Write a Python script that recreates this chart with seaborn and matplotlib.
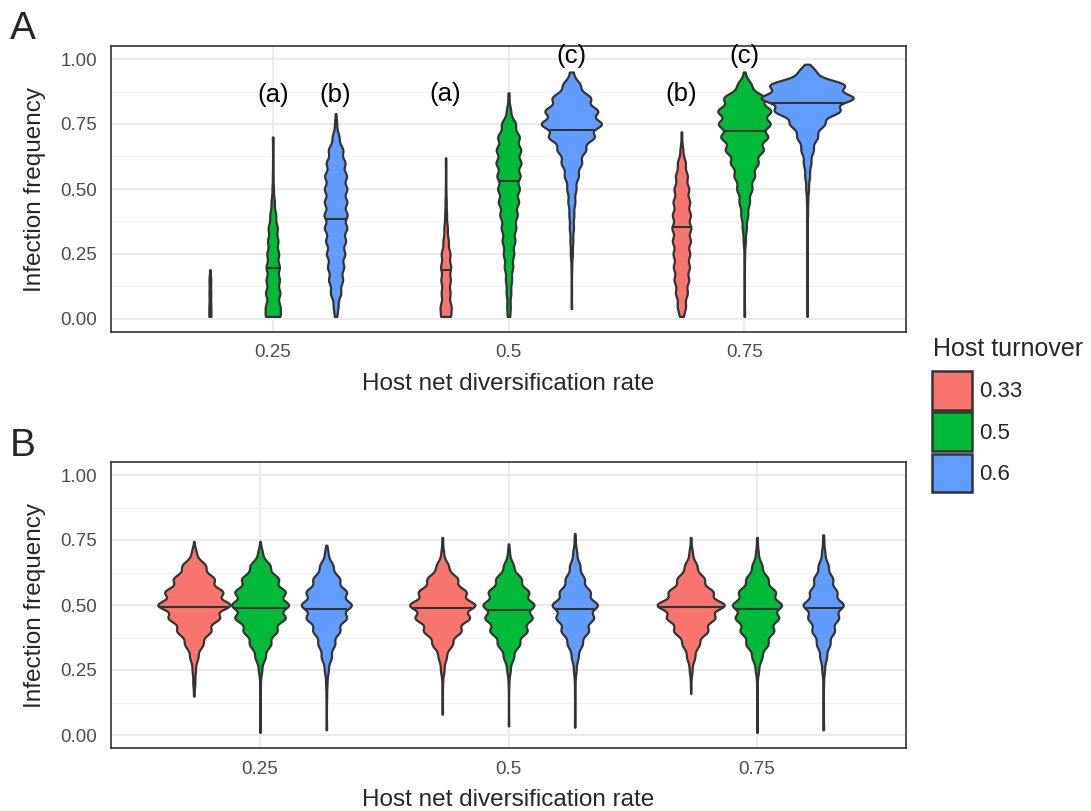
import numpy as np
import pandas as pd
import matplotlib
matplotlib.use("Agg")
import matplotlib.pyplot as plt
from matplotlib.patches import Patch
import seaborn as sns

rates = ["0.25", "0.5", "0.75"]
turnovers = ["0.33", "0.5", "0.6"]
palette = ["#F8766D", "#00BA38", "#619CFF"]

# infection frequency bins
freq_bins = [0.00, 0.05, 0.10, 0.15, 0.20, 0.25, 0.30, 0.35, 0.40, 0.45, 0.50,
             0.55, 0.60, 0.65, 0.70, 0.75, 0.80, 0.85, 0.90, 0.95, 1.00]

# relative frequency per bin, one row per diversification rate (0.25, 0.5, 0.75)
# panel A
A_033 = [[2, 2, 2, 2, 0, 0, 0, 0, 0, 0, 0, 0, 0, 0, 0, 0, 0, 0, 0, 0, 0],
         [26, 30, 26, 28, 30, 26, 16, 10, 6, 4, 2, 1, 1, 0, 0, 0, 0, 0, 0, 0, 0],
         [8, 24, 36, 44, 48, 50, 54, 56, 54, 50, 44, 36, 24, 8, 2, 0, 0, 0, 0, 0, 0]]
A_05 = [[40, 40, 44, 40, 40, 36, 32, 28, 18, 10, 4, 2, 1, 1, 1, 0, 0, 0, 0, 0, 0],
        [6, 10, 14, 18, 24, 30, 36, 42, 50, 58, 62, 66, 72, 70, 62, 40, 12, 3, 0, 0, 0],
        [1, 1, 1, 1, 1, 2, 6, 12, 20, 30, 44, 60, 80, 110, 136, 150, 154, 120, 40, 4, 0]]
A_06 = [[4, 14, 30, 40, 46, 52, 56, 64, 66, 64, 64, 62, 54, 42, 20, 6, 0, 0, 0, 0, 0],
        [0, 1, 1, 1, 2, 6, 8, 12, 14, 20, 26, 40, 58, 80, 130, 172, 150, 110, 50, 10, 0],
        [1, 1, 1, 1, 1, 1, 1, 1, 2, 4, 8, 14, 22, 36, 60, 100, 190, 272, 220, 50, 0]]
# panel B
B_033 = [[0, 0, 0, 1, 6, 10, 24, 54, 100, 150, 215, 170, 120, 70, 14, 0, 0, 0, 0, 0, 0],
         [0, 0, 1, 1, 2, 10, 24, 60, 110, 160, 194, 140, 90, 36, 8, 2, 0, 0, 0, 0, 0],
         [0, 0, 0, 0, 2, 8, 24, 50, 100, 140, 200, 130, 80, 36, 10, 2, 0, 0, 0, 0, 0]]
B_05 = [[1, 1, 1, 1, 2, 10, 30, 64, 100, 150, 170, 150, 110, 60, 14, 0, 0, 0, 0, 0, 0],
        [0, 1, 1, 1, 2, 10, 30, 66, 110, 140, 152, 120, 76, 30, 6, 0, 0, 0, 0, 0, 0],
        [1, 1, 1, 1, 2, 10, 30, 66, 100, 130, 148, 110, 66, 30, 8, 2, 0, 0, 0, 0, 0]]
B_06 = [[1, 1, 1, 2, 4, 12, 30, 50, 80, 120, 150, 120, 80, 40, 10, 0, 0, 0, 0, 0, 0],
        [0, 1, 1, 1, 2, 8, 20, 44, 80, 110, 134, 90, 56, 30, 12, 3, 0, 0, 0, 0, 0],
        [1, 1, 1, 1, 2, 8, 20, 40, 66, 90, 120, 80, 56, 30, 10, 3, 0, 0, 0, 0, 0]]

# per turnover (rows) and rate (columns): number of runs, min, max, median
A_runs = [[40, 220, 380], [300, 500, 1060], [460, 1200, 1840]]
A_lo = [[0.01, 0.01, 0.01], [0.01, 0.01, 0.01], [0.01, 0.04, 0.01]]
A_hi = [[0.19, 0.62, 0.72], [0.70, 0.87, 0.95], [0.79, 0.95, 0.98]]
A_med = [[0.10, 0.19, 0.355], [0.195, 0.53, 0.725], [0.385, 0.727, 0.832]]

B_runs = [[1440, 1300, 1340], [1140, 1020, 980], [1000, 900, 800]]
B_lo = [[0.15, 0.08, 0.16], [0.01, 0.035, 0.01], [0.02, 0.03, 0.02]]
B_hi = [[0.745, 0.76, 0.76], [0.745, 0.735, 0.76], [0.73, 0.775, 0.77]]
B_med = [[0.492, 0.489, 0.494], [0.49, 0.479, 0.484], [0.483, 0.484, 0.489]]

# significance letters: (label, rate index, turnover index, y)
A_letters = [("(a)", 0, 1, 0.86), ("(b)", 0, 2, 0.86), ("(a)", 1, 0, 0.865),
             ("(c)", 1, 2, 1.012), ("(b)", 2, 0, 0.865), ("(c)", 2, 1, 1.01)]

OUTLINE = "#333333"
HUE_STEP = 0.8 / 3


def build_frame(profiles, runs, lo, hi):
    parts = []
    for j, turn in enumerate(turnovers):
        for i, rate in enumerate(rates):
            prof = np.array(profiles[j][i], dtype=float)
            counts = np.round(prof / prof.sum() * runs[j][i]).astype(int)
            obs = np.clip(np.repeat(freq_bins, counts), lo[j][i], hi[j][i])
            obs = np.append(obs, [lo[j][i], hi[j][i]])
            parts.append(pd.DataFrame({"rate": rate, "turnover": turn, "freq": obs}))
    return pd.concat(parts, ignore_index=True)


def fixed_bw(kde):
    # same absolute bandwidth for every violin
    return 0.02 / np.std(kde.dataset, ddof=1)


def draw_panel(ax, df, medians, gap, xlim):
    sns.violinplot(data=df, x="rate", y="freq", hue="turnover", order=rates,
                   hue_order=turnovers, palette=palette, saturation=1,
                   density_norm="count", common_norm=True, cut=0, gridsize=300,
                   bw_method=fixed_bw, inner=None, linewidth=1.6,
                   linecolor=OUTLINE, gap=gap, legend=False, ax=ax)

    # median line across each violin
    for coll in list(ax.collections):
        paths = coll.get_paths()
        if not paths:
            continue
        verts = paths[0].vertices
        cx = (verts[:, 0].min() + verts[:, 0].max()) / 2
        i = int(round(cx))
        j = int(round((cx - i) / HUE_STEP)) + 1
        m = medians[j][i]
        right = verts[verts[:, 0] >= cx]
        order = np.argsort(right[:, 1])
        xr = np.interp(m, right[order, 1], right[order, 0])
        ax.plot([2 * cx - xr, xr], [m, m], color=OUTLINE, lw=1.5,
                solid_capstyle="butt", zorder=5)

    ax.set_xlim(xlim)
    ax.set_ylim(-0.05, 1.05)
    ax.set_yticks([0, 0.25, 0.5, 0.75, 1.0])
    ax.set_yticklabels(["0.00", "0.25", "0.50", "0.75", "1.00"])
    ax.set_yticks([0.125, 0.375, 0.625, 0.875], minor=True)
    ax.set_xticks([0, 1, 2])
    ax.set_xticklabels(rates)
    ax.grid(which="major", color="#EBEBEB", lw=1.5)
    ax.grid(which="minor", axis="y", color="#F2F2F2", lw=0.9)
    ax.xaxis.grid(True, which="major", color="#EBEBEB", lw=1.5)
    ax.set_axisbelow(True)
    for s in ax.spines.values():
        s.set_visible(True)
        s.set_color(OUTLINE)
        s.set_linewidth(1.2)
    ax.tick_params(which="major", length=4, width=1, color=OUTLINE,
                   labelcolor="#4D4D4D", labelsize=13.5)
    ax.tick_params(axis="x", pad=5)
    ax.tick_params(axis="y", pad=6)
    ax.tick_params(which="minor", length=0)
    ax.set_xlabel("Host net diversification rate", fontsize=17.5, labelpad=8)
    ax.set_ylabel("Infection frequency", fontsize=17.5, labelpad=10)


sns.set_theme(style="white")
plt.rcParams["font.family"] = ["Liberation Sans", "DejaVu Sans"]

fig = plt.figure(figsize=(10.91, 8.11), dpi=100)
W, H = 1091, 811
axA = fig.add_axes([111 / W, 1 - 332 / H, 795 / W, 286 / H])
axB = fig.add_axes([111 / W, 1 - 748 / H, 795 / W, 286 / H])

dfA = build_frame([A_033, A_05, A_06], A_runs, A_lo, A_hi)
dfB = build_frame([B_033, B_05, B_06], B_runs, B_lo, B_hi)

draw_panel(axA, dfA, A_med, gap=-0.466, xlim=(-0.686, 2.686))
draw_panel(axB, dfB, B_med, gap=-0.087, xlim=(-0.6, 2.6))

for lab, i, j, y in A_letters:
    axA.text(i + (j - 1) * HUE_STEP, y, lab, ha="center", va="center",
             fontsize=18.5, color="black", clip_on=False)

fig.text(10 / W, 1 - 39 / H, "A", fontsize=28, ha="left", va="baseline")
fig.text(10 / W, 1 - 456 / H, "B", fontsize=28, ha="left", va="baseline")

# legend: title as its own text so the gap above the keys matches
fig.text(933 / W, 1 - 356 / H, "Host turnover", fontsize=18, ha="left",
         va="baseline")
handles = [Patch(facecolor=c, edgecolor=OUTLINE, linewidth=1.8, label=t)
           for c, t in zip(palette, turnovers)]
fig.legend(handles=handles, loc="upper left",
           bbox_to_anchor=(932 / W, 1 - 371 / H), frameon=False, fontsize=16,
           handlelength=1.8, handleheight=2.3,
           labelspacing=0.12, handletextpad=0.3, borderpad=0,
           borderaxespad=0)

fig.savefig("out.png", dpi=100)
